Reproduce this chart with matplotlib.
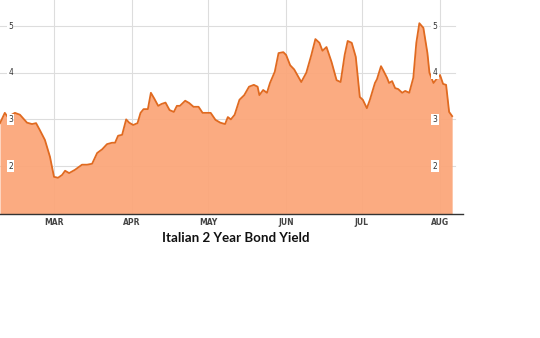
import matplotlib.pyplot as plt

# days counted from 1 March, yield in percent
days = [-21.4, -19.5, -18.3, -15.5, -13.5, -10.7, -8.7, -7.1, -5.6, -3.6, -1.6,
        0.0, 1.6, 3.2, 4.4, 6.0, 8.3, 11.1, 13.1, 15.1, 17.1, 19.1, 21.0, 23.0,
        24.2, 25.4, 27.0, 28.6, 29.8, 31.4, 33.1, 34.3, 35.5, 37.2, 38.4, 39.7,
        41.3, 42.6, 44.2, 45.8, 47.5, 48.7, 49.9, 52.0, 53.6, 55.3, 57.3, 58.9,
        61.0, 62.1, 64.0, 65.9, 67.8, 68.9, 70.1, 71.6, 73.5, 75.4, 77.3, 79.2,
        80.7, 81.4, 82.9, 84.4, 85.6, 87.5, 89.0, 90.9, 92.0, 93.6, 95.2, 98.0,
        100.0, 102.0, 103.6, 105.2, 106.4, 108.0, 110.0, 112.0, 113.6, 115.2,
        116.4, 118.0, 119.6, 121.2, 122.4, 124.0, 125.2, 127.2, 128.0, 129.6,
        130.4, 132.0, 132.8, 134.0, 135.2, 136.4, 138.0, 139.2, 140.8, 142.4,
        143.6, 144.8, 146.4, 148.0, 148.8, 150.4, 152.0, 153.0, 154.2, 155.4,
        156.6, 157.8]
yields = [2.92, 3.14, 3.05, 3.14, 3.10, 2.93, 2.90, 2.92, 2.77, 2.56, 2.20,
          1.77, 1.75, 1.81, 1.90, 1.85, 1.92, 2.03, 2.03, 2.05, 2.28, 2.36, 2.47,
          2.50, 2.50, 2.65, 2.67, 3.00, 2.93, 2.88, 2.92, 3.14, 3.22, 3.22, 3.57,
          3.45, 3.29, 3.33, 3.36, 3.20, 3.16, 3.29, 3.29, 3.40, 3.35, 3.27, 3.27,
          3.14, 3.14, 3.14, 2.99, 2.93, 2.90, 3.05, 3.00, 3.10, 3.42, 3.52, 3.70,
          3.74, 3.70, 3.52, 3.63, 3.57, 3.78, 4.02, 4.42, 4.44, 4.38, 4.16, 4.07,
          3.80, 4.00, 4.38, 4.72, 4.64, 4.47, 4.55, 4.23, 3.84, 3.80, 4.38, 4.68,
          4.64, 4.34, 3.48, 3.42, 3.24, 3.42, 3.78, 3.86, 4.14, 4.06, 3.89, 3.78,
          3.82, 3.67, 3.65, 3.57, 3.61, 3.57, 3.89, 4.64, 5.06, 4.96, 4.42, 4.00,
          3.78, 3.89, 3.95, 3.76, 3.74, 3.16, 3.07]

month_days = [0, 31, 61, 92, 122, 153]
month_labels = ["MAR", "APR", "MAY", "JUN", "JUL", "AUG"]
levels = [2, 3, 4, 5]

fig = plt.figure(figsize=(5.4, 3.38), dpi=100)
ax = fig.add_axes([0, 1 - 214 / 338, 463 / 540, 214 / 338])

x0, x1 = -21.4, 162.1
y0, y1 = 0.974, 5.557
ax.set_xlim(x0, x1)
ax.set_ylim(y0, y1)

for lv in levels:
    ax.axhline(lv, xmax=455 / 463, color="#dddddd", lw=0.8, zorder=0)
for d in month_days:
    ax.axvline(d, color="#dddddd", lw=0.8, zorder=0)

ax.fill_between(days, yields, y0, color="#fba77a", alpha=0.95, lw=0, zorder=1)
ax.plot(days, yields, color="#e06a20", lw=1.3, zorder=2)

box = dict(facecolor="white", edgecolor="none", pad=1)
for lv in levels:
    ax.text(-17.2, lv, str(lv), fontsize=5.5, color="#333333", ha="center",
            va="center", bbox=box, zorder=3)
    ax.text(151.0, lv, str(lv), fontsize=5.5, color="#333333", ha="center",
            va="center", bbox=box, zorder=3)

ax.set_xticks(month_days)
ax.set_xticklabels(month_labels, fontsize=5.5, fontweight="bold", color="#444444")
ax.tick_params(axis="x", length=0, pad=3)
ax.set_yticks([])
for s in ["top", "left", "right"]:
    ax.spines[s].set_visible(False)
ax.spines["bottom"].set_color("#333333")
ax.spines["bottom"].set_linewidth(1)

fig.text(236 / 540, 1 - 238 / 338, "Italian 2 Year Bond Yield", family="Lato",
         fontweight="bold", fontsize=9.6, ha="center", va="center", color="#111111")

fig.savefig("out.png", dpi=100)
